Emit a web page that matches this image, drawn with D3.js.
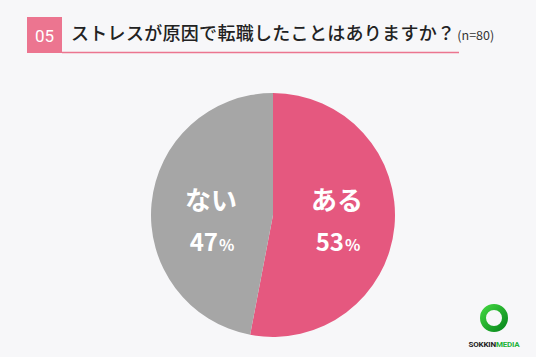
<!DOCTYPE html>
<html>
<head>
<meta charset="utf-8">
<script src="https://cdn.jsdelivr.net/npm/d3@7"></script>
<style>
  body { margin: 0; background: #f7f7f9; }
  svg { display: block; font-family: "Noto Sans CJK JP", "Noto Sans", sans-serif; }
</style>
</head>
<body>
<div id="chart"></div>
<script>
const WIDTH = 536
const HEIGHT = 357

const categories = ["ある", "ない"]
const values = [53, 47]
const colors = ["#e5587f", "#a6a6a6"]

const svg = d3.select("#chart").append("svg")
  .attr("width", WIDTH)
  .attr("height", HEIGHT)

svg.append("rect")
  .attr("width", WIDTH)
  .attr("height", HEIGHT)
  .attr("fill", "#f7f7f9")

// title
svg.append("rect")
  .attr("x", 27).attr("y", 17)
  .attr("width", 35).attr("height", 36)
  .attr("fill", "#ec7590")
svg.append("text")
  .attr("x", 44.5).attr("y", 42)
  .attr("text-anchor", "middle")
  .attr("font-size", "17px")
  .attr("fill", "#fff")
  .attr("font-family", "Roboto, sans-serif")
  .text("05")
svg.append("line")
  .attr("x1", 62).attr("x2", 459)
  .attr("y1", 52.5).attr("y2", 52.5)
  .attr("stroke", "#ec7590")
  .attr("stroke-width", 1.5)
const title = svg.append("text")
  .attr("x", 71).attr("y", 40)
  .attr("fill", "#222")
title.append("tspan")
  .attr("font-size", "18px")
  .attr("font-weight", 500)
  .attr("letter-spacing", "0.3")
  .text("ストレスが原因で転職したことはありますか？")
title.append("tspan")
  .attr("font-size", "12.5px")
  .attr("dx", 2)
  .attr("fill", "#333")
  .text("(n=80)")

// pie
const cx = 273, cy = 215, R = 122
const pie = d3.pie().sort(null)
const arc = d3.arc().innerRadius(0).outerRadius(R)
const arcs = pie(values)

const g = svg.append("g").attr("transform", `translate(${cx}, ${cy})`)
g.selectAll("path")
  .data(arcs)
  .enter().append("path")
  .attr("d", arc)
  .attr("fill", (d, i) => colors[i])

const labelPos = [[64, 0], [-62, 0]]
arcs.forEach((d, i) => {
  const [lx, ly] = labelPos[i]
  g.append("text")
    .attr("x", lx).attr("y", ly - 5)
    .attr("text-anchor", "middle")
    .attr("font-size", "26px")
    .attr("font-weight", 700)
    .attr("fill", "#fff")
    .text(categories[i])
  const t = g.append("text")
    .attr("x", lx + 1).attr("y", ly + 36)
    .attr("text-anchor", "middle")
    .attr("font-weight", 600)
    .attr("fill", "#fff")
  t.append("tspan").attr("font-size", "24px").text(values[i])
  t.append("tspan").attr("font-size", "16px").attr("dx", 1).text("%")
})

// logo
const logo = svg.append("g").attr("transform", "translate(494, 318)")
const grad = svg.append("defs").append("linearGradient")
  .attr("id", "lg").attr("x1", 0).attr("y1", 0).attr("x2", 1).attr("y2", 1)
grad.append("stop").attr("offset", 0).attr("stop-color", "#3fd23f")
grad.append("stop").attr("offset", 1).attr("stop-color", "#0a8a1e")
logo.append("circle")
  .attr("r", 11)
  .attr("fill", "none")
  .attr("stroke", "url(#lg)")
  .attr("stroke-width", 6)
const lt = svg.append("text")
  .attr("x", 494).attr("y", 347)
  .attr("text-anchor", "middle")
  .attr("font-size", "8px")
  .attr("font-weight", 700)
  .attr("letter-spacing", "-0.2")
  .attr("font-family", "Roboto, sans-serif")
lt.append("tspan").attr("fill", "#222").text("SOKKIN")
lt.append("tspan").attr("fill", "#22b33a").text("MEDIA")
</script>
</body>
</html>
